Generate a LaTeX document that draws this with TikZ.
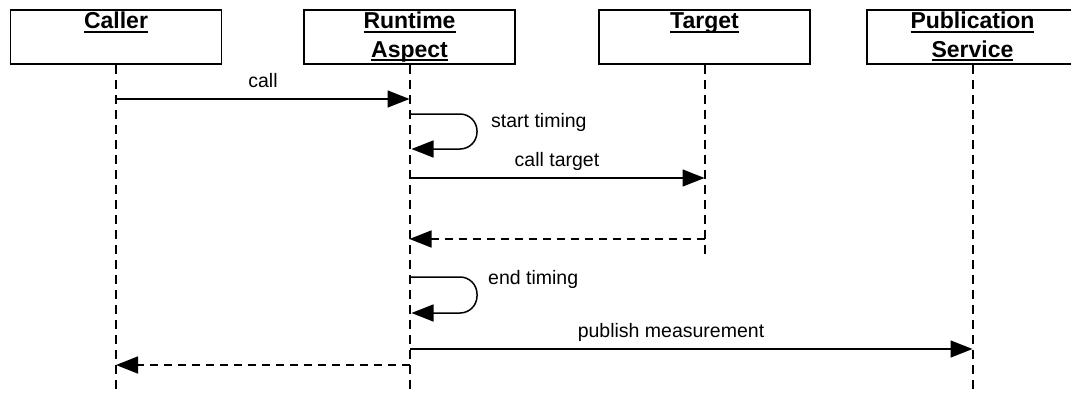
\documentclass[tikz,border=0pt]{standalone}
\usepackage{fontspec}
\setmainfont{Liberation Sans}
\usetikzlibrary{arrows.meta}

% underlined participant name, rule at a fixed depth below the baseline
\newcommand{\ulhead}[1]{\setbox0=\hbox{#1}\rlap{\rule[-4pt]{\wd0}{1.8pt}}\box0}
% fixed first-line height so every title sits on the same baseline
\newcommand{\firstline}{\rule{0pt}{17pt}}

\begin{document}
\begin{tikzpicture}[x=1pt,y=-1pt,
  actor/.style={draw, line width=1.8pt, minimum width=211pt, minimum height=54pt,
    inner sep=0, anchor=north},
  head/.style={font=\fontsize{23}{28.5}\selectfont\bfseries, align=center,
    anchor=north, inner sep=0},
  life/.style={line width=2pt, dash pattern=on 9pt off 6pt},
  msg/.style={line width=1.5pt, -{Triangle[length=22pt,width=17pt]}},
  ret/.style={msg, dash pattern=on 8pt off 6pt},
  selfmsg/.style={msg, rounded corners=17pt},
  lbl/.style={font=\fontsize{19.5}{23}\selectfont, inner sep=0},
]
\useasboundingbox (0,0) rectangle (1071,394);

% participants
\node[actor] (caller) at (116,9) {};
\node[actor] (rt)     at (409.5,9) {};
\node[actor] (tgt)    at (704.5,9) {};
\node[actor] (pub)    at (972.5,9) {};

\node[head] (callerT) at (116,11.5)   {\firstline\ulhead{Caller}};
\node[head] (rtT)     at (409.5,11.5) {\firstline\ulhead{Runtime}\\\ulhead{Aspect}};
\node[head] (tgtT)    at (704.5,11.5) {\firstline\ulhead{Target}};
\node[head] (pubT)    at (972.5,11.5) {\firstline\ulhead{Publication}\\\ulhead{Service}};

% lifeline ends
\coordinate (callerEnd) at (116,394);
\coordinate (rtEnd)     at (409.5,394);
\coordinate (tgtEnd)    at (704.5,258);
\coordinate (pubEnd)    at (972.5,394);

\draw[life] (caller.south) -- (callerEnd);
\draw[life] (rt.south) -- (rtEnd);
\draw[life] (tgt.south) -- (tgtEnd);
\draw[life] (pub.south) -- (pubEnd);

% message anchors on the lifelines
\coordinate (c1) at (116,99);
\coordinate (r1) at (409.5,99);
\coordinate (r2a) at (409.5,114);
\coordinate (r2b) at (411.5,149);
\coordinate (r3) at (409.5,178);
\coordinate (t3) at (704.5,178);
\coordinate (t4) at (704.5,239);
\coordinate (r4) at (409.5,239);
\coordinate (r5a) at (409.5,277);
\coordinate (r5b) at (411.5,313);
\coordinate (r6) at (409.5,349);
\coordinate (p6) at (972.5,349);
\coordinate (r7) at (409.5,365);
\coordinate (c7) at (116,365);

% messages
\draw[msg] (c1) -- (r1);
\node[lbl, anchor=base] (lcall) at (263,87.5) {call};

\draw[selfmsg] (r2a) -- ++(67.5,0) |- (r2b);
\node[lbl, anchor=base west] (lstart) at (491,127) {start timing};

\draw[msg] (r3) -- (t3);
\node[lbl, anchor=base] (ltarget) at (557,166.5) {call target};

\draw[ret] (t4) -- (r4);

\draw[selfmsg] (r5a) -- ++(67.5,0) |- (r5b);
\node[lbl, anchor=base west] (lend) at (488,284) {end timing};

\draw[msg] (r6) -- (p6);
\node[lbl, anchor=base] (lpub) at (671,337) {publish measurement};

\draw[ret] (r7) -- (c7);
\end{tikzpicture}
\end{document}
